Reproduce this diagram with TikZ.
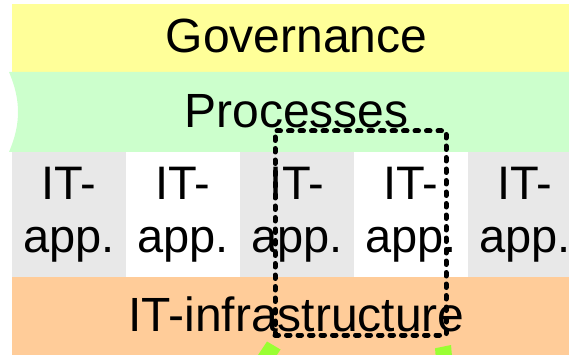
\documentclass[tikz,border=0pt]{standalone}
\usepackage{fontspec}
\setmainfont{Liberation Sans}
\usetikzlibrary{positioning}
\definecolor{govyellow}{RGB}{255,255,153}
\definecolor{procgreen}{RGB}{204,255,204}
\definecolor{appgrey}{RGB}{232,232,232}
\definecolor{infraorange}{RGB}{255,204,153}
\definecolor{linklime}{RGB}{153,255,51}
\tikzstyle{layertext} = [inner sep=0pt, anchor=base, font=\fontsize{48}{53}\selectfont]
\tikzstyle{appbox} = [inner sep=0pt, minimum width=114pt, minimum height=125pt, align=center, font=\fontsize{47}{53}\selectfont]
\tikzstyle{scopebox} = [draw=black, line width=5pt, dash pattern=on 3.5pt off 8pt, line cap=round, inner sep=0pt]

\begin{document}
\begin{tikzpicture}[x=1pt, y=-1pt]
\useasboundingbox (0,0) rectangle (569,355);
\clip (0,0) rectangle (569,355);
% Layers
\fill[govyellow] (12,4) rectangle (581,72);
\fill[procgreen] (9,72) .. controls (21,100) and (21,124) .. (9,152) -- (581,152) -- (581,72) -- cycle;
\fill[infraorange] (12,277) rectangle (581,370);

% IT applications, grey and white in turn
\foreach \i in {1,...,5} {
  \pgfmathsetmacro{\appx}{69+114*(\i-1)}
  \ifodd\i \def\appfill{appgrey}\else \def\appfill{white}\fi
  \node[appbox, fill=\appfill] (app\i) at (\appx,214.5) {IT-\\app.};
}

% Labels
\node[layertext] (gov) at (296.5,53) {Governance};
\node[layertext] (proc) at (296.5,128) {Processes};
\node[layertext] (infra) at (296.5,331) {IT-infrastructure};

% Selection and links leaving it
\node[scopebox, minimum width=171pt, minimum height=204pt] (scope) at (360.5,233) {};
\fill[linklime] (267,341.5) -- (280.5,349.5) -- (269.7,365.7) -- (256.2,357.7) -- cycle;
\fill[linklime] (435,348.3) -- (451,345) -- (452.5,362) -- (436.5,365) -- cycle;
\end{tikzpicture}
\end{document}
